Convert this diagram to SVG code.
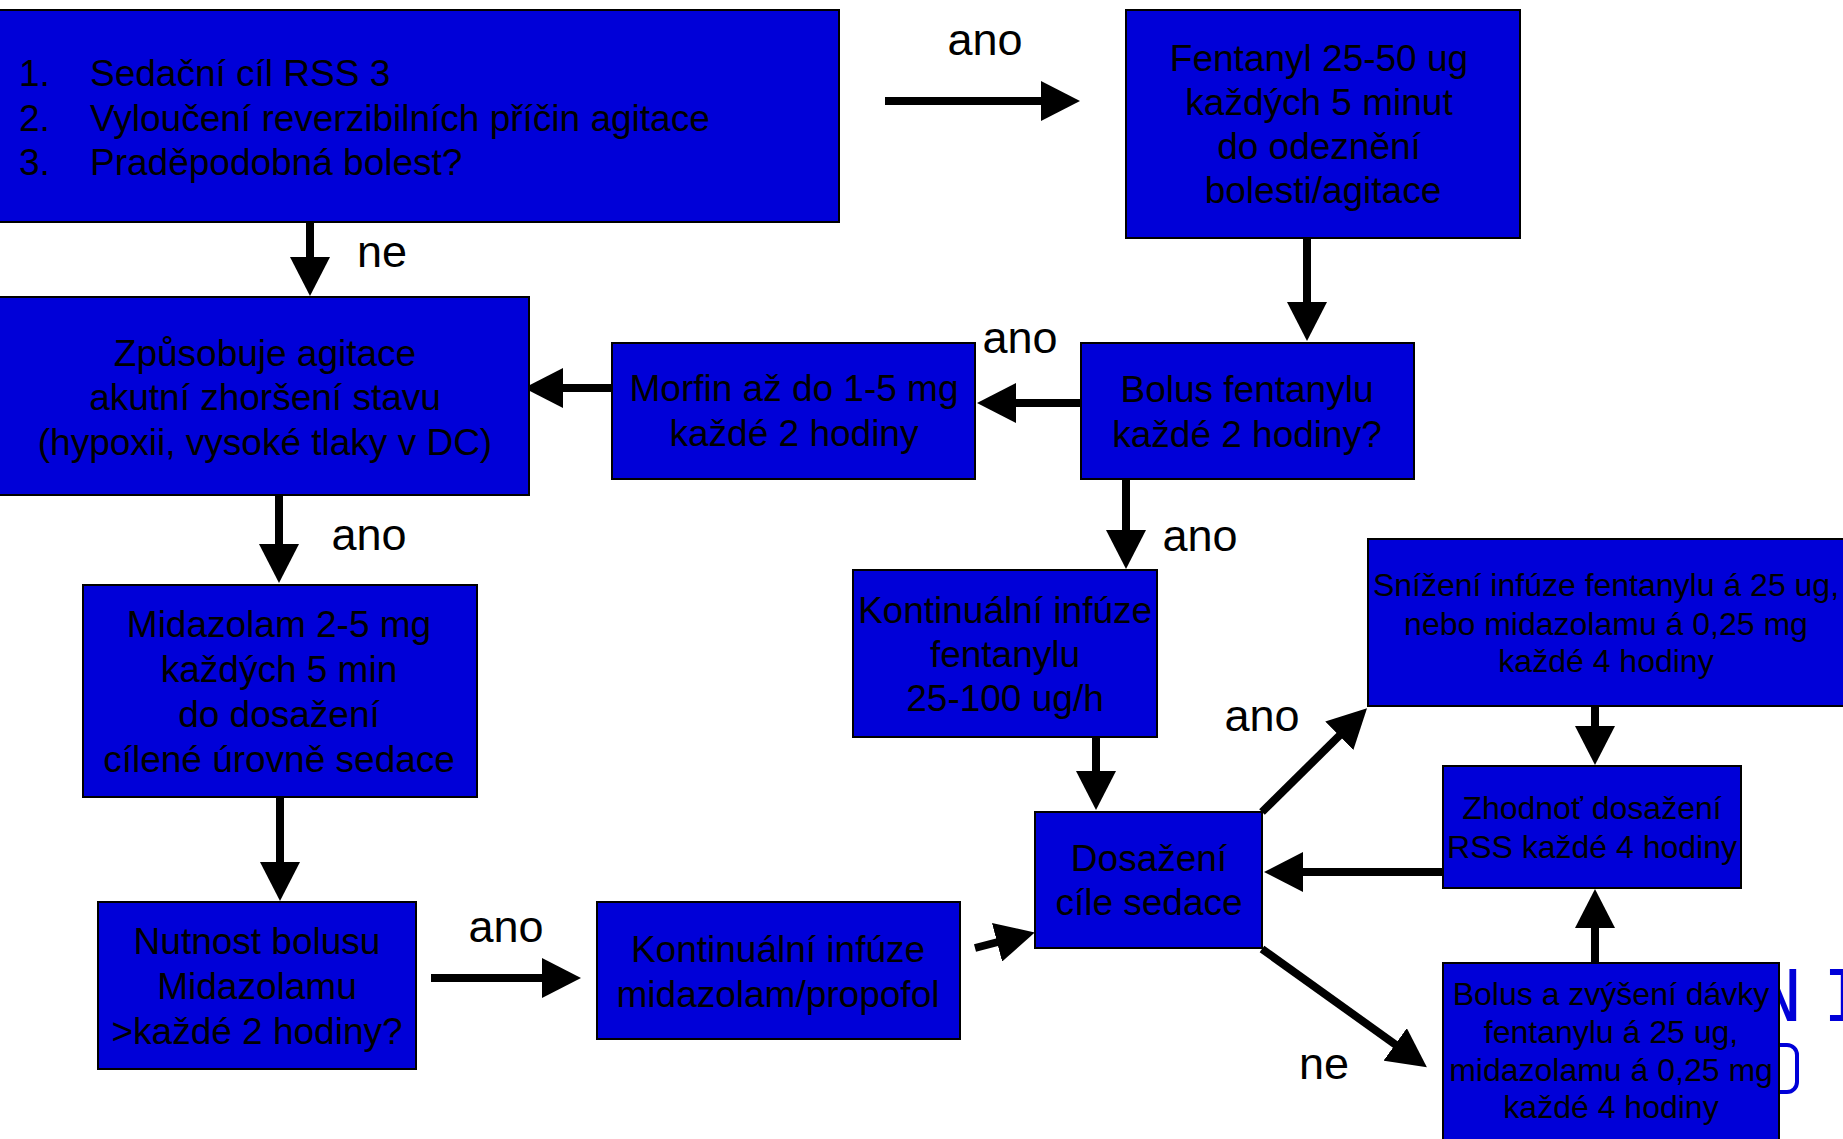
<svg xmlns="http://www.w3.org/2000/svg" width="1843" height="1139" viewBox="0 0 1843 1139">
<style>
.box{fill:#0000D8;stroke:#000;stroke-width:2}
.t{font-family:"Liberation Sans",Arial,sans-serif;font-size:37px;fill:#000;text-anchor:middle}
.s{font-size:32px}
.lbl{font-family:"Liberation Sans",Arial,sans-serif;font-size:45px;fill:#000;text-anchor:middle}
.c{stroke:#000;stroke-width:8;fill:none;marker-end:url(#ah)}
</style>
<defs>
<marker id="ah" markerUnits="userSpaceOnUse" markerWidth="40" markerHeight="40" viewBox="0 0 40 40" refX="1" refY="20" orient="auto">
<path d="M0,0 L39,20 L0,40 z" fill="#000"/>
</marker>
</defs>
<rect width="1843" height="1139" fill="#fff"/>
<g id="artifact">
<rect x="1700" y="1045" width="97" height="47" rx="10" fill="none" stroke="#0000D8" stroke-width="4"/>
<text x="1801" y="1021" font-family="DejaVu Sans Mono,monospace" font-size="71" fill="#0000D8" text-anchor="end" font-weight="normal">N</text>
<text x="1823" y="1021" font-family="DejaVu Sans Mono,monospace" font-size="71" fill="#0000D8">I</text>
</g>
<g id="connectors">
<path class="c" d="M885,101 H1042"/>
<path class="c" d="M310,222 V258"/>
<path class="c" d="M1307,238 V303"/>
<path class="c" d="M1081,403 H1015"/>
<path class="c" d="M612,388 H562"/>
<path class="c" d="M279,495 V545"/>
<path class="c" d="M280,797 V863"/>
<path class="c" d="M431,978 H543"/>
<path class="c" d="M975,948 L998,942"/>
<path class="c" d="M1126,479 V531"/>
<path class="c" d="M1096,737 V772"/>
<path class="c" d="M1262,812 L1340,735"/>
<path class="c" d="M1444,872 H1302"/>
<path class="c" d="M1595,706 V727"/>
<path class="c" d="M1595,963 V927"/>
<path class="c" d="M1262,949 L1396,1045"/>
<text class="lbl" x="985" y="55">ano</text>
<text class="lbl" x="382" y="267">ne</text>
<text class="lbl" x="1020" y="353">ano</text>
<text class="lbl" x="369" y="550">ano</text>
<text class="lbl" x="1200" y="551">ano</text>
<text class="lbl" x="506" y="942">ano</text>
<text class="lbl" x="1262" y="731">ano</text>
<text class="lbl" x="1324" y="1079">ne</text>
</g>
<g id="n1">
<rect class="box" x="-2" y="10" width="841" height="212"/>
<text class="t" style="text-anchor:start" x="19" y="86">1.</text>
<text class="t" style="text-anchor:start" x="90" y="86">Sedační cíl RSS 3</text>
<text class="t" style="text-anchor:start" x="19" y="130.5">2.</text>
<text class="t" style="text-anchor:start" x="90" y="130.5">Vyloučení reverzibilních příčin agitace</text>
<text class="t" style="text-anchor:start" x="19" y="175">3.</text>
<text class="t" style="text-anchor:start" x="90" y="175">Praděpodobná bolest?</text>
</g>
<g id="n2">
<rect class="box" x="1126" y="10" width="394" height="228"/>
<text class="t" x="1319" y="71">Fentanyl 25-50 ug</text>
<text class="t" x="1319" y="115">každých 5 minut</text>
<text class="t" x="1319" y="159">do odeznění</text>
<text class="t" x="1323" y="203">bolesti/agitace</text>
</g>
<g id="n3">
<rect class="box" x="1081" y="343" width="333" height="136"/>
<text class="t" x="1247" y="402">Bolus fentanylu</text>
<text class="t" x="1247" y="447">každé 2 hodiny?</text>
</g>
<g id="n4">
<rect class="box" x="612" y="343" width="363" height="136"/>
<text class="t" x="794" y="401">Morfin až do 1-5 mg</text>
<text class="t" x="794" y="446">každé 2 hodiny</text>
</g>
<g id="n5">
<rect class="box" x="-2" y="297" width="531" height="198"/>
<text class="t" x="265" y="366">Způsobuje agitace</text>
<text class="t" x="265" y="410">akutní zhoršení stavu</text>
<text class="t" x="265" y="455">(hypoxii, vysoké tlaky v DC)</text>
</g>
<g id="n6">
<rect class="box" x="83" y="585" width="394" height="212"/>
<text class="t" x="279" y="637">Midazolam 2-5 mg</text>
<text class="t" x="279" y="682">každých 5 min</text>
<text class="t" x="279" y="727">do dosažení</text>
<text class="t" x="279" y="772">cílené úrovně sedace</text>
</g>
<g id="n7">
<rect class="box" x="98" y="902" width="318" height="167"/>
<text class="t" x="257" y="954">Nutnost bolusu</text>
<text class="t" x="257" y="999">Midazolamu</text>
<text class="t" x="257" y="1044">&gt;každé 2 hodiny?</text>
</g>
<g id="n8">
<rect class="box" x="597" y="902" width="363" height="137"/>
<text class="t" x="778" y="962">Kontinuální infúze</text>
<text class="t" x="778" y="1007">midazolam/propofol</text>
</g>
<g id="n9">
<rect class="box" x="853" y="570" width="304" height="167"/>
<text class="t" x="1005" y="623">Kontinuální infúze</text>
<text class="t" x="1005" y="667">fentanylu</text>
<text class="t" x="1005" y="711">25-100 ug/h</text>
</g>
<g id="n10">
<rect class="box" x="1035" y="812" width="227" height="136"/>
<text class="t" x="1149" y="871">Dosažení</text>
<text class="t" x="1149" y="915">cíle sedace</text>
</g>
<g id="n11">
<rect class="box" x="1368" y="539" width="482" height="167"/>
<text class="t s" x="1606" y="596">Snížení infúze fentanylu á 25 ug,</text>
<text class="t s" x="1606" y="634.5">nebo midazolamu á 0,25 mg</text>
<text class="t s" x="1606" y="672">každé 4 hodiny</text>
</g>
<g id="n12">
<rect class="box" x="1443" y="766" width="298" height="122"/>
<text class="t s" x="1592" y="819">Zhodnoť dosažení</text>
<text class="t s" x="1592" y="857.5">RSS každé 4 hodiny</text>
</g>
<g id="n13">
<rect class="box" x="1443" y="963" width="336" height="180"/>
<text class="t s" x="1611" y="1005">Bolus a zvýšení dávky</text>
<text class="t s" x="1611" y="1043">fentanylu á 25 ug,</text>
<text class="t s" x="1611" y="1080.6">midazolamu á 0,25 mg</text>
<text class="t s" x="1611" y="1118">každé 4 hodiny</text>
</g>
</svg>
